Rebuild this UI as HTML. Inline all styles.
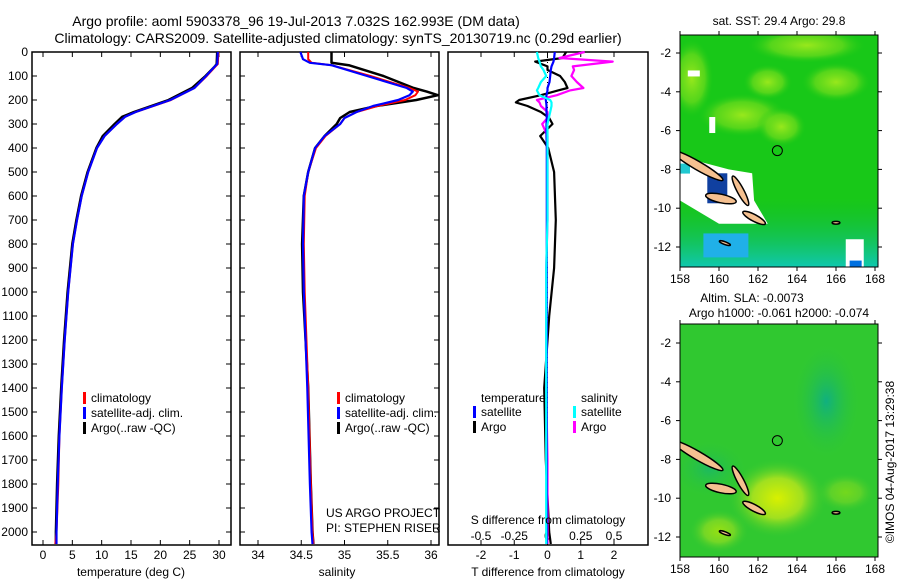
<!DOCTYPE html>
<html><head><meta charset="utf-8"><style>
body{margin:0;background:#fff;}
svg{display:block;font-family:"Liberation Sans",sans-serif;}
text{font-size:12px;fill:#000;}
.ttl{font-size:14px;}
</style></head><body>
<svg id="fig" width="900" height="580" viewBox="0 0 900 580">
<text class="ttl" x="296" y="26" text-anchor="middle">Argo profile: aoml 5903378_96 19-Jul-2013 7.032S 162.993E (DM data)</text>
<text class="ttl" x="338" y="43" text-anchor="middle">Climatology: CARS2009. Satellite-adjusted climatology: synTS_20130719.nc (0.29d earlier)</text>
<g id="p1"></g>
<g id="p2"></g>
<g id="p3"></g>
<g id="m1"></g>
<g id="m2"></g>
<text transform="translate(894,462) rotate(-90)" text-anchor="middle">©IMOS 04-Aug-2017 13:29:38</text>
</svg>
<script>
// ---- data ----
const depthsT = [0,50,60,100,150,200,250,270,300,350,400,500,600,700,800,1000,1200,1400,1600,1800,2000,2050];
const tempArgo = [29.7,29.6,29.3,27.7,25.4,21.4,15.5,13.5,12.2,10.2,9.1,7.6,6.5,5.7,5.0,4.2,3.6,3.1,2.7,2.4,2.2,2.2];
const tempClim = [29.9,29.8,29.4,27.9,25.8,21.8,15.8,14.0,12.6,10.5,9.2,7.7,6.6,5.8,5.1,4.3,3.7,3.2,2.8,2.6,2.3,2.1];
const tempSat  = [29.8,29.7,29.3,27.8,25.8,21.7,15.8,14.0,12.6,10.5,9.2,7.7,6.6,5.8,5.1,4.3,3.7,3.2,2.8,2.5,2.3,2.3];
const depthsS = [0,30,45,55,100,150,165,180,200,225,250,275,300,350,400,500,600,800,1000,1400,1800,2000,2050];
const salArgo = [34.85,34.85,34.85,35.05,35.45,35.8,35.95,36.08,35.83,35.37,35.06,34.95,34.91,34.77,34.66,34.58,34.53,34.51,34.52,34.58,34.61,34.63,34.64];
const salClim = [34.58,34.58,34.62,34.85,35.3,35.75,35.85,35.82,35.7,35.38,35.14,35.0,34.95,34.78,34.67,34.58,34.54,34.53,34.54,34.58,34.61,34.63,34.64];
const salSat  = [34.49,34.52,34.6,34.85,35.26,35.72,35.79,35.75,35.62,35.33,35.14,35.0,34.95,34.77,34.66,34.58,34.53,34.52,34.53,34.57,34.6,34.62,34.63];
const depthsD = [0,25,40,60,75,100,125,150,160,180,200,210,225,250,275,300,350,400,500,700,900,1100,1400,1700,2000,2050];
const dTArgo = [0.56,0.45,-0.37,0.0,0.0,0.38,0.52,0.6,0.32,-0.2,-0.85,-0.95,-0.6,-0.2,0.05,0.15,-0.22,0.02,0.2,0.25,0.2,0.05,-0.1,-0.05,0.05,0.1];
const dSArgo = [0.28,0.09,0.49,0.19,0.2,0.18,0.22,0.27,0.17,0.07,-0.08,-0.06,-0.05,0.0,0.0,-0.04,0.0,0.0,0.0,0.0,-0.01,-0.01,-0.01,0.0,0.0,0.0];
const dTSat  = [0.22,0.2,0.18,0.12,0.1,0.08,0.06,0.0,0.0,-0.03,-0.05,-0.04,-0.03,-0.03,-0.02,-0.03,-0.03,-0.02,-0.02,-0.02,-0.02,-0.02,-0.02,-0.02,-0.02,-0.02];
const dSSat  = [-0.08,-0.07,-0.06,-0.05,-0.03,-0.01,-0.05,-0.07,-0.08,-0.06,0.02,0.03,0.03,0.02,0.01,0.0,0.0,0.0,0.0,0.0,-0.01,-0.01,-0.01,-0.01,-0.01,-0.01];
const depthTicks = [0,100,200,300,400,500,600,700,800,900,1000,1100,1200,1300,1400,1500,1600,1700,1800,1900,2000];
const tempTicks = [0,5,10,15,20,25,30];
const salTicks = [34,34.5,35,35.5,36];
const tDiffTicks = [-2,-1,0,1,2];
const sDiffTicks = [-0.5,-0.25,0,0.25,0.5];
const lonTicks = [158,160,162,164,166,168];
const latTicks = [-2,-4,-6,-8,-10,-12];

const NS="http://www.w3.org/2000/svg";
function mk(parent,tag,attrs,txt){const e=document.createElementNS(NS,tag);for(const k in attrs)e.setAttribute(k,attrs[k]);if(txt!==undefined)e.textContent=txt;parent.appendChild(e);return e;}
const TOP=52,BOT=545;
const yD=d=>TOP+d*0.24;
function scale(d0,d1,r0,r1){return v=>r0+(v-d0)*(r1-r0)/(d1-d0);}
function frame(g,x0,x1,name){const r=mk(g,'rect',{x:x0,y:TOP,width:x1-x0,height:BOT-TOP,fill:'none',stroke:'#000','stroke-width':1.5});

}
function line(g,depths,vals,xf,color,w,name){
 let d='';depths.forEach((z,i)=>{d+=(i?'L':'M')+xf(vals[i]).toFixed(1)+','+yD(z).toFixed(1);});
 const p=mk(g,'path',{d:d,fill:'none',stroke:color,'stroke-width':w,'stroke-linejoin':'round'});
 
 }
function xTicks(g,ticks,xf,y,up){ticks.forEach(t=>{const x=xf(t);
 mk(g,'line',{x1:x,x2:x,y1:BOT,y2:BOT-5,stroke:'#000'});
 if(up) mk(g,'line',{x1:x,x2:x,y1:TOP,y2:TOP+5,stroke:'#000'});
 const tx=mk(g,'text',{x:x,y:y,'text-anchor':'middle'},String(t));
 
 });}
function legend(g,x,y,items){items.forEach((it,i)=>{
 mk(g,'rect',{x:x,y:y+i*15-10,width:3,height:12,fill:it[0]});
 const t=mk(g,'text',{x:x+8,y:y+i*15},it[1]);
 
 });}

// panel 1
const p1=document.getElementById('p1');
const xT=scale(0,30,43,219);
frame(p1,32,231,'temperature-axes');
depthTicks.forEach(z=>{const y=yD(z);mk(p1,'line',{x1:32,x2:37,y1:y,y2:y,stroke:'#000'});mk(p1,'line',{x1:231,x2:226,y1:y,y2:y,stroke:'#000'});
 const t=mk(p1,'text',{x:28,y:y+4,'text-anchor':'end'},String(z));
 
 });
xTicks(p1,tempTicks,xT,559,true);
line(p1,depthsT,tempArgo,xT,'#000',2.5,'temp-argo-line');
line(p1,depthsT,tempClim,xT,'#f00',2,'temp-clim-line');
line(p1,depthsT,tempSat,xT,'#00f',2.2,'temp-sat-line');
legend(p1,83,402,[['#f00','climatology'],['#00f','satellite-adj. clim.'],['#000','Argo(..raw -QC)']]);
let lb=mk(p1,'text',{x:131,y:576,'text-anchor':'middle'},'temperature (deg C)');



// panel 2
const p2=document.getElementById('p2');
const xS=scale(34,36,258,431);
frame(p2,240,439,'salinity-axes');
depthTicks.forEach(z=>{const y=yD(z);mk(p2,'line',{x1:240,x2:245,y1:y,y2:y,stroke:'#000'});mk(p2,'line',{x1:439,x2:434,y1:y,y2:y,stroke:'#000'});});
xTicks(p2,salTicks,xS,559,true);
line(p2,depthsS,salArgo,xS,'#000',2.5,'sal-argo-line');
line(p2,depthsS,salClim,xS,'#f00',2,'sal-clim-line');
line(p2,depthsS,salSat,xS,'#00f',2.2,'sal-sat-line');
legend(p2,337,402,[['#f00','climatology'],['#00f','satellite-adj. clim.'],['#000','Argo(..raw -QC)']]);
lb=mk(p2,'text',{x:337,y:576,'text-anchor':'middle'},'salinity');


lb=mk(p2,'text',{x:326,y:517},'US ARGO PROJECT');


lb=mk(p2,'text',{x:326,y:532},'PI: STEPHEN RISER');



// panel 3
const p3=document.getElementById('p3');
const xDT=scale(-2,2,481,614), xDS=scale(-0.5,0.5,481,614);
frame(p3,448,648,'difference-axes');
tDiffTicks.forEach(t=>{const x=xDT(t);mk(p3,'line',{x1:x,x2:x,y1:BOT,y2:BOT-5,stroke:'#000'});mk(p3,'line',{x1:x,x2:x,y1:TOP,y2:TOP+5,stroke:'#000'});
 const tx=mk(p3,'text',{x:x,y:559,'text-anchor':'middle'},String(t));
 
 });
sDiffTicks.forEach(t=>{const x=xDS(t);
 const tx=mk(p3,'text',{x:x,y:540,'text-anchor':'middle'},String(t));
 
 });
mk(p3,'line',{x1:xDT(0),x2:xDT(0),y1:TOP,y2:BOT,stroke:'#000','stroke-dasharray':'1,4'});
line(p3,depthsD,dTArgo,xDT,'#000',2.2,'t-diff-argo-line');
line(p3,depthsD,dSArgo,xDS,'#f0f',2.2,'s-diff-argo-line');
line(p3,depthsD,dTSat,xDT,'#00f',2.2,'t-diff-sat-line');
line(p3,depthsD,dSSat,xDS,'#0ff',2.2,'s-diff-sat-line');
lb=mk(p3,'text',{x:481,y:402},'temperature');
lb=mk(p3,'text',{x:581,y:402},'salinity');
legend(p3,473,416,[['#00f','satellite'],['#000','Argo']]);
legend(p3,573,416,[['#0ff','satellite'],['#f0f','Argo']]);
lb=mk(p3,'text',{x:548,y:524,'text-anchor':'middle'},'S difference from climatology');
lb=mk(p3,'text',{x:548,y:576,'text-anchor':'middle'},'T difference from climatology');

// maps
const lonX=scale(158,168,680,875);
const islands=[[158.9,-7.8,1.5,0.22,-30],[160.1,-9.5,0.8,0.22,-12],[161.1,-9.1,0.85,0.17,-62],[161.8,-10.5,0.65,0.17,-28],[160.3,-11.8,0.3,0.07,-20],[166,-10.75,0.2,0.07,0]];
function map(id,y0,y1,latY,isSST){
 const g=document.getElementById(id);
 const defs=mk(g,'defs',{});
 const cid='clip'+id;
 const cp=mk(defs,'clipPath',{id:cid});mk(cp,'rect',{x:680,y:y0,width:198,height:y1-y0});
 const b=mk(g,'g',{'clip-path':'url(#'+cid+')'});
 if(isSST){
  mk(b,'rect',{x:680,y:y0,width:198,height:y1-y0,fill:'#18c818'});
  const gr=mk(defs,'radialGradient',{id:'g1'});mk(gr,'stop',{offset:0,'stop-color':'#98e81c'});mk(gr,'stop',{offset:0.6,'stop-color':'#70dc1c','stop-opacity':0.7});mk(gr,'stop',{offset:1,'stop-color':'#18c818','stop-opacity':0});
  mk(b,'ellipse',{cx:lonX(158.6),cy:latY(-3.3),rx:22,ry:40,fill:'url(#g1)'});
  mk(b,'ellipse',{cx:lonX(161.2),cy:latY(-5.2),rx:45,ry:22,fill:'url(#g1)'});
  mk(b,'ellipse',{cx:lonX(163.2),cy:latY(-5.8),rx:25,ry:20,fill:'url(#g1)'});
  mk(b,'ellipse',{cx:lonX(164.5),cy:latY(-1.6),rx:60,ry:18,fill:'url(#g1)'});
  mk(b,'ellipse',{cx:lonX(166),cy:latY(-3.5),rx:35,ry:20,fill:'url(#g1)'});
  mk(b,'ellipse',{cx:lonX(162.5),cy:latY(-3.5),rx:25,ry:18,fill:'url(#g1)'});
  const gr2=mk(defs,'linearGradient',{id:'g2',x1:0,y1:0,x2:0,y2:1});mk(gr2,'stop',{offset:0,'stop-color':'#10b840','stop-opacity':0});mk(gr2,'stop',{offset:1,'stop-color':'#10c8b0'});
  mk(b,'rect',{x:680,y:latY(-9.5),width:198,height:y1-latY(-9.5),fill:'url(#g2)'});
  mk(b,'rect',{x:lonX(159.2),y:latY(-11.3),width:45,height:24,fill:'#20b0e8'});
  mk(b,'path',{d:`M680,${latY(-7.3)} L${lonX(159)},${latY(-7.6)} L${lonX(160.5)},${latY(-8)} L${lonX(161.7)},${latY(-8.2)} L${lonX(161.8)},${latY(-9.6)} L${lonX(162.5)},${latY(-10.8)} L${lonX(160)},${latY(-10.8)} L680,${latY(-9.6)} Z`,fill:'#fff'});
  mk(b,'rect',{x:680,y:latY(-7.7),width:10,height:10,fill:'#20c8d0'});
  mk(b,'rect',{x:lonX(159.4),y:latY(-8.2),width:20,height:30,fill:'#1040a0'});
  mk(b,'rect',{x:lonX(166.5),y:latY(-11.6),width:18,height:30,fill:'#fff'});
  mk(b,'rect',{x:lonX(166.7),y:latY(-12.7),width:12,height:10,fill:'#0070e0'});
  mk(b,'rect',{x:lonX(159.5),y:latY(-5.3),width:6,height:16,fill:'#fff'});
  mk(b,'rect',{x:lonX(158.4),y:latY(-2.9),width:12,height:6,fill:'#fff'});
 } else {
  mk(b,'rect',{x:680,y:y0,width:198,height:y1-y0,fill:'#30c830'});
  const gr=mk(defs,'radialGradient',{id:'g3'});mk(gr,'stop',{offset:0,'stop-color':'#d8f000'});mk(gr,'stop',{offset:0.5,'stop-color':'#a0e020'});mk(gr,'stop',{offset:1,'stop-color':'#30c830','stop-opacity':0});
  mk(b,'ellipse',{cx:lonX(163),cy:latY(-10),rx:50,ry:40,fill:'url(#g3)'});
  mk(b,'ellipse',{cx:lonX(160),cy:latY(-11.7),rx:30,ry:22,fill:'url(#g3)',opacity:0.6});
  mk(b,'ellipse',{cx:lonX(166.5),cy:latY(-9.7),rx:30,ry:20,fill:'url(#g3)',opacity:0.4});
  const gr2=mk(defs,'radialGradient',{id:'g4'});mk(gr2,'stop',{offset:0,'stop-color':'#10b080'});mk(gr2,'stop',{offset:1,'stop-color':'#30c830','stop-opacity':0});
  mk(b,'ellipse',{cx:lonX(165.5),cy:latY(-5),rx:35,ry:60,fill:'url(#g4)'});
  mk(b,'ellipse',{cx:lonX(159.5),cy:latY(-8.5),rx:40,ry:30,fill:'url(#g4)',opacity:0.6});
 }
 islands.forEach(is=>{const e=mk(b,'ellipse',{cx:lonX(is[0]),cy:latY(is[1]),rx:is[2]*19.5,ry:is[3]*19.5,fill:'#f5c090',stroke:'#000','stroke-width':1.5,transform:`rotate(${-is[4]} ${lonX(is[0])} ${latY(is[1])})`});
  
  });
 const c=mk(g,'circle',{cx:lonX(162.993),cy:latY(-7.032),r:5,fill:'none',stroke:'#000'});
 
 
 const fr=mk(g,'rect',{x:680,y:y0,width:198,height:y1-y0,fill:'none',stroke:'#000'});
 
 
 lonTicks.forEach(l=>{const x=lonX(l);mk(g,'line',{x1:x,x2:x,y1:y0,y2:y0-4,stroke:'#000'});mk(g,'line',{x1:x,x2:x,y1:y1,y2:y1+4,stroke:'#000'});
  const t=mk(g,'text',{x:x,y:y1+16,'text-anchor':'middle'},String(l));
  
  });
 latTicks.forEach(l=>{const y=latY(l);mk(g,'line',{x1:680,x2:676,y1:y,y2:y,stroke:'#000'});mk(g,'line',{x1:878,x2:882,y1:y,y2:y,stroke:'#000'});
  const t=mk(g,'text',{x:671,y:y+4,'text-anchor':'end'},String(l));
  
  });
}
map('m1',35,267,lat=>53+(-2-lat)*19.4,true);
map('m2',324,557,lat=>343+(-2-lat)*19.4,false);
const m1=document.getElementById('m1'),m2=document.getElementById('m2');
lb=mk(m1,'text',{x:779,y:25,'text-anchor':'middle'},'sat. SST: 29.4  Argo: 29.8');
lb=mk(m2,'text',{x:752,y:302,'text-anchor':'middle'},'Altim. SLA: -0.0073');
lb=mk(m2,'text',{x:779,y:317,'text-anchor':'middle'},'Argo h1000: -0.061 h2000: -0.074');
</script>
</body></html>
